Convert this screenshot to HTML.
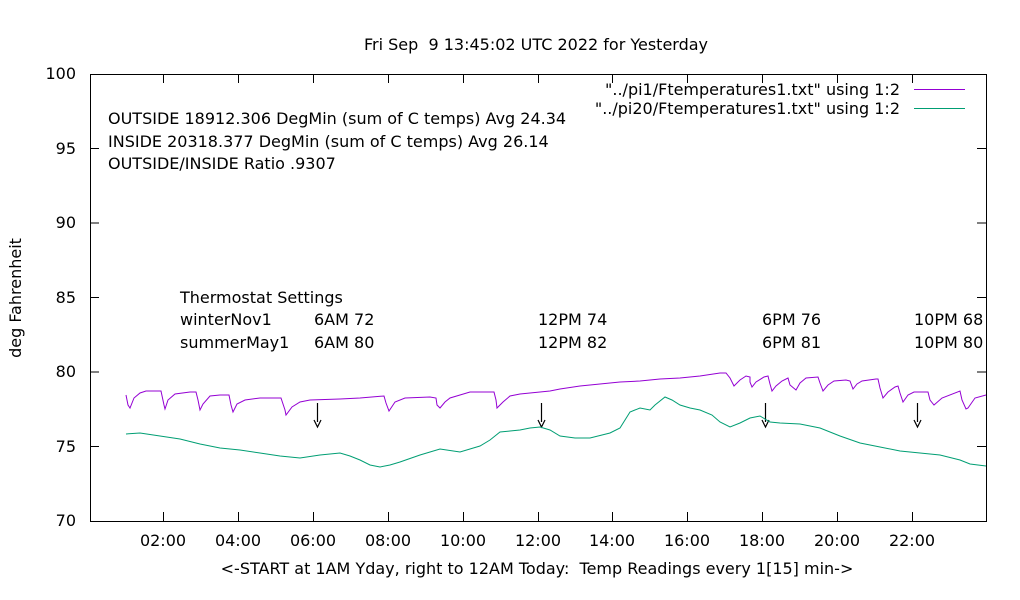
<!DOCTYPE html>
<html><head><meta charset="utf-8"><style>body{margin:0;background:#fff}svg{display:block}text{font-family:"DejaVu Sans","Liberation Sans",sans-serif;font-size:16px;fill:#000;white-space:pre}</style></head>
<body>
<svg width="1020" height="600" xmlns="http://www.w3.org/2000/svg">
<rect width="1020" height="600" fill="#fff"/>
<text x="536" y="50" text-anchor="middle" xml:space="preserve">Fri Sep  9 13:45:02 UTC 2022 for Yesterday</text>
<rect x="90.5" y="74.5" width="896" height="447" fill="none" stroke="#000" stroke-width="1"/>
<g stroke="#000" stroke-width="1">
<path d="M90 148.5h9M90 223h9M90 297.5h9M90 372h9M90 446.5h9M986 148.5h-9M986 223h-9M986 297.5h-9M986 372h-9M986 446.5h-9"/>
<path d="M163.5 521v-9M238.5 521v-9M313.5 521v-9M388.5 521v-9M463.5 521v-9M538.5 521v-9M612.5 521v-9M687.5 521v-9M762.5 521v-9M837.5 521v-9M912.5 521v-9"/>
<path d="M163.5 74v9M238.5 74v9M313.5 74v9M388.5 74v9M463.5 74v9M538.5 74v9M612.5 74v9M687.5 74v9M762.5 74v9M837.5 74v9M912.5 74v9"/>
</g>
<g text-anchor="end">
<text x="76" y="79">100</text><text x="76" y="154">95</text><text x="76" y="228">90</text><text x="76" y="303">85</text><text x="76" y="377">80</text><text x="76" y="452">75</text><text x="76" y="526">70</text>
</g>
<g text-anchor="middle">
<text x="163" y="546">02:00</text><text x="238" y="546">04:00</text><text x="313" y="546">06:00</text><text x="388" y="546">08:00</text><text x="463" y="546">10:00</text><text x="538" y="546">12:00</text><text x="612" y="546">14:00</text><text x="687" y="546">16:00</text><text x="762" y="546">18:00</text><text x="837" y="546">20:00</text><text x="912" y="546">22:00</text>
<text x="537" y="574" xml:space="preserve">&lt;-START at 1AM Yday, right to 12AM Today:  Temp Readings every 1[15] min-&gt;</text>
</g>
<text transform="translate(21,298) rotate(-90)" text-anchor="middle">deg Fahrenheit</text>
<text x="108" y="124">OUTSIDE 18912.306 DegMin (sum of C temps) Avg 24.34</text>
<text x="108" y="147">INSIDE 20318.377 DegMin (sum of C temps) Avg 26.14</text>
<text x="108" y="169">OUTSIDE/INSIDE Ratio .9307</text>
<text x="180" y="303">Thermostat Settings</text>
<text x="180" y="325">winterNov1</text><text x="180" y="348">summerMay1</text>
<text x="314" y="325">6AM 72</text><text x="314" y="348">6AM 80</text>
<text x="538" y="325">12PM 74</text><text x="538" y="348">12PM 82</text>
<text x="762" y="325">6PM 76</text><text x="762" y="348">6PM 81</text>
<text x="914" y="325">10PM 68</text><text x="914" y="348">10PM 80</text>
<text x="900" y="95" text-anchor="end">"../pi1/Ftemperatures1.txt" using 1:2</text>
<text x="900" y="114" text-anchor="end">"../pi20/Ftemperatures1.txt" using 1:2</text>
<path d="M914 89.5h51" stroke="#9400d3" stroke-width="1"/>
<path d="M914 108.5h51" stroke="#009e73" stroke-width="1"/>
<g stroke="#000" stroke-width="1.2" fill="none">
<path d="M317.5 403v19M314 420l3.5 7 3.5-7"/>
<path d="M541.5 403v19M538 420l3.5 7 3.5-7"/>
<path d="M765.5 403v19M762 420l3.5 7 3.5-7"/>
<path d="M917.5 403v19M914 420l3.5 7 3.5-7"/>
</g>
<polyline fill="none" stroke="#9400d3" stroke-width="1" points="126,395 128,405 130,408 134,398 140,393 146,391 160,391 161,391 164,405 165,409 168,400 175,394 190,392 196,392 198,400 200,410 203,404 210,396 220,395 229,395 231,405 233,412 237,404 245,400 260,398 280,398 281,398 285,410 286,415 292,407 300,402 310,400 340,399 360,398 384,396 386,403 389,411 395,402 405,398 430,397 436,398 437,405 440,408 445,402 450,398 460,395 470,392 480,392 494,392 496,400 497,408 503,402 510,396 520,394 540,392 550,391 560,389 580,386 600,384 620,382 640,381 660,379 680,378 700,376 720,373 726,373 730,378 734,386 740,380 746,376 750,377 750,382 752,387 756,382 764,377 768,376 770,384 772,391 776,386 782,381 788,378 790,385 796,390 800,383 806,378 818,377 820,383 823,391 828,385 834,381 846,380 850,381 853,389 857,384 862,381 876,379 878,379 880,388 883,398 888,392 895,387 898,386 900,393 903,402 908,395 914,392 928,392 930,400 934,405 942,398 960,391 962,400 966,409 968,408 975,398 986,395"/>
<polyline fill="none" stroke="#009e73" stroke-width="1" points="126,434 140,433 160,436 180,439 200,444 220,448 240,450 260,453 280,456 300,458 320,455 340,453 350,456 360,460 370,465 380,467 390,465 400,462 420,455 440,449 460,452 480,446 490,440 500,432 510,431 520,430 530,428 540,427 550,430 560,436 575,438 590,438 610,433 620,428 630,412 640,408 650,410 655,405 665,397 672,400 680,405 690,408 700,410 712,415 720,422 730,427 740,423 750,418 760,416 770,422 780,423 800,424 820,428 840,436 860,443 880,447 900,451 920,453 940,455 960,460 970,464 986,466"/>
</svg>
</body></html>
